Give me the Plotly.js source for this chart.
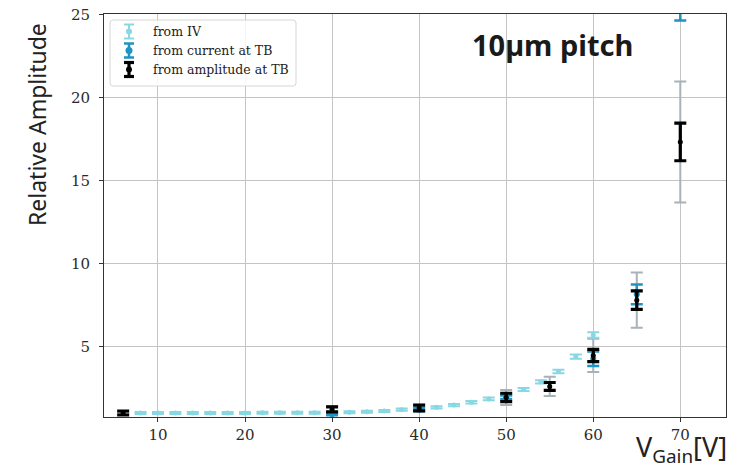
<!DOCTYPE html>
<html>
<head>
<meta charset="utf-8">
<script src="https://cdn.plot.ly/plotly-3.0.1.min.js"></script>
<style>
  html, body { margin: 0; padding: 0; background: #ffffff; }
  #chart { width: 731px; height: 474px; }
</style>
</head>
<body>
<div id="chart"></div>
<script>
// Gain curve of the 10 µm pitch sensor: relative amplitude vs. gain voltage

// From IV measurement
const ivVoltage = [8, 10, 12, 14, 16, 18, 20, 22, 24, 26, 28, 30, 32, 34, 36, 38, 40, 42, 44, 46, 48, 50, 52, 54, 56, 58, 60];
const ivAmplitude = [1.00, 1.00, 1.00, 1.00, 1.00, 1.00, 1.00, 1.01, 1.01, 1.01, 1.01, 1.02, 1.05, 1.07, 1.12, 1.20, 1.27, 1.34, 1.48, 1.65, 1.85, 2.08, 2.42, 2.88, 3.50, 4.40, 5.70];
const ivError = [0.06, 0.06, 0.06, 0.06, 0.06, 0.06, 0.06, 0.06, 0.06, 0.06, 0.06, 0.06, 0.06, 0.06, 0.06, 0.07, 0.07, 0.07, 0.07, 0.08, 0.08, 0.09, 0.09, 0.10, 0.11, 0.13, 0.17];

// From current measured at the test beam
const tbCurrentVoltage = [30, 40, 50, 60, 65, 70];
const tbCurrentAmplitude = [0.93, 1.20, 1.95, 4.27, 8.15, 27.0];
const tbCurrentError = [0.06, 0.08, 0.12, 0.43, 0.60, 2.35];

// From signal amplitude at the test beam (statistical and systematic errors)
const tbAmpVoltage = [6, 30, 40, 50, 55, 60, 65, 70];
const tbAmpAmplitude = [1.00, 1.22, 1.30, 1.94, 2.60, 4.47, 7.80, 17.33];
const tbAmpStatError = [0.12, 0.15, 0.17, 0.25, 0.24, 0.37, 0.56, 1.13];
const tbAmpSysError = [0.00, 0.20, 0.20, 0.45, 0.58, 1.00, 1.66, 3.65];

const xTicks = [10, 20, 30, 40, 50, 60, 70];
const yTicks = [5, 10, 15, 20, 25];

const legendLabels = ['from IV', 'from current at TB', 'from amplitude at TB'];

const colIV = '#88d8e4';
const colCurrent = '#1f93c4';
const colAmp = '#000000';
const colSys = '#a8b2b9';

const traces = [
  {
    x: tbAmpVoltage, y: tbAmpAmplitude, type: 'scatter', mode: 'markers',
    marker: { size: 1, color: colSys, opacity: 0 },
    error_y: { type: 'data', array: tbAmpSysError, visible: true, color: colSys, thickness: 2, width: 6 },
    hoverinfo: 'skip', showlegend: false
  },
  {
    x: ivVoltage, y: ivAmplitude, type: 'scatter', mode: 'markers',
    name: legendLabels[0],
    marker: { size: 5, color: colIV },
    error_y: { type: 'data', array: ivError, visible: true, color: colIV, thickness: 2, width: 6 },
    showlegend: false
  },
  {
    x: tbCurrentVoltage, y: tbCurrentAmplitude, type: 'scatter', mode: 'markers',
    name: legendLabels[1],
    marker: { size: 6, color: colCurrent },
    error_y: { type: 'data', array: tbCurrentError, visible: true, color: colCurrent, thickness: 2.5, width: 6 },
    showlegend: false
  },
  {
    x: tbAmpVoltage, y: tbAmpAmplitude, type: 'scatter', mode: 'markers',
    name: legendLabels[2],
    marker: { size: 5, color: colAmp },
    error_y: { type: 'data', array: tbAmpStatError, visible: true, color: colAmp, thickness: 3.2, width: 6 },
    showlegend: false
  }
];

// Plot area in pixels, used to lay out the hand-drawn legend box
const W = 731, H = 474;
const M = { l: 104, r: 5, t: 14, b: 57 };
const pw = W - M.l - M.r, ph = H - M.t - M.b;
const px = v => (v - M.l) / pw;
const py = v => (H - M.b - v) / ph;

const shapes = [];
// legend frame with rounded corners
(function () {
  const x0 = px(110), x1 = px(296), y0 = py(86), y1 = py(20);
  const rx = 3 / pw, ry = 3 / ph;
  shapes.push({
    type: 'path', xref: 'paper', yref: 'paper',
    path: `M ${x0 + rx} ${y0} L ${x1 - rx} ${y0} Q ${x1} ${y0} ${x1} ${y0 + ry} L ${x1} ${y1 - ry} Q ${x1} ${y1} ${x1 - rx} ${y1} L ${x0 + rx} ${y1} Q ${x0} ${y1} ${x0} ${y1 - ry} L ${x0} ${y0 + ry} Q ${x0} ${y0} ${x0 + rx} ${y0} Z`,
    line: { color: '#d6d6d6', width: 1 }, fillcolor: 'rgba(255,255,255,0.85)'
  });
})();

const legendRows = [31.5, 50.5, 69.5];
const legendStyle = [
  { color: colIV, w: 2, dot: 3 },
  { color: colCurrent, w: 2.5, dot: 3.5 },
  { color: colAmp, w: 3.2, dot: 3 }
];
const iconX = 129;
legendRows.forEach((ry, i) => {
  const s = legendStyle[i];
  const line = { color: s.color, width: s.w };
  shapes.push({ type: 'line', xref: 'paper', yref: 'paper', x0: px(iconX), x1: px(iconX), y0: py(ry - 7), y1: py(ry + 7), line });
  shapes.push({ type: 'line', xref: 'paper', yref: 'paper', x0: px(iconX - 5), x1: px(iconX + 5), y0: py(ry - 7), y1: py(ry - 7), line });
  shapes.push({ type: 'line', xref: 'paper', yref: 'paper', x0: px(iconX - 5), x1: px(iconX + 5), y0: py(ry + 7), y1: py(ry + 7), line });
  shapes.push({ type: 'circle', xref: 'paper', yref: 'paper', x0: px(iconX - s.dot), x1: px(iconX + s.dot), y0: py(ry + s.dot), y1: py(ry - s.dot), line: { width: 0 }, fillcolor: s.color });
});

const annotations = legendLabels.map((t, i) => ({
  text: t, xref: 'paper', yref: 'paper', x: px(151), y: py(legendRows[i]),
  xanchor: 'left', yanchor: 'middle', showarrow: false,
  font: { family: 'DejaVu Serif', size: 12.5, color: '#222' }
}));

annotations.push({
  text: '<b>10µm pitch</b>', xref: 'paper', yref: 'paper', x: px(552), y: py(45),
  xanchor: 'center', yanchor: 'middle', showarrow: false,
  font: { family: 'Noto Sans', size: 29, color: '#1a1a1a' }
});
annotations.push({
  text: 'Relative Amplitude', xref: 'paper', yref: 'paper', x: px(37), y: py(125),
  xanchor: 'center', yanchor: 'middle', textangle: -90, showarrow: false,
  font: { family: 'Noto Sans', size: 23, color: '#222' }
});
annotations.push({
  text: 'V<sub>Gain</sub>[V]', xref: 'paper', yref: 'paper', x: px(729), y: py(448),
  xanchor: 'right', yanchor: 'middle', showarrow: false,
  font: { family: 'Noto Sans', size: 27, color: '#222' }
});

const axisCommon = {
  showline: true, mirror: true, linecolor: '#333', linewidth: 1,
  showgrid: true, gridcolor: '#c4c4c4', gridwidth: 1,
  ticks: 'outside', ticklen: 4, tickcolor: '#333', tickwidth: 1,
  zeroline: false,
  tickfont: { family: 'DejaVu Serif', size: 15, color: '#2a2a2a' }
};

const layout = {
  width: W, height: H,
  margin: M,
  paper_bgcolor: '#ffffff', plot_bgcolor: '#ffffff',
  showlegend: false,
  xaxis: Object.assign({}, axisCommon, { range: [3.8, 75.25], tickvals: xTicks, ticktext: xTicks.map(String) }),
  yaxis: Object.assign({}, axisCommon, { range: [0.76, 25.04], tickvals: yTicks, ticktext: yTicks.map(String), ticklabelstandoff: 6 }),
  shapes: shapes,
  annotations: annotations
};

Plotly.newPlot('chart', traces, layout, { staticPlot: true, displayModeBar: false });
</script>
</body>
</html>
